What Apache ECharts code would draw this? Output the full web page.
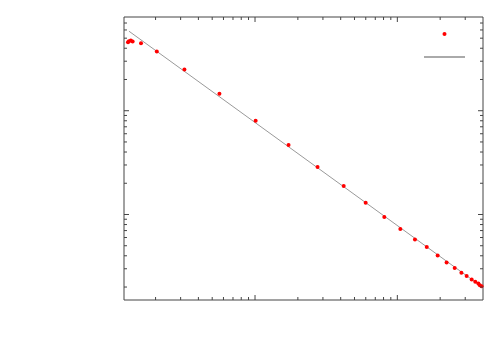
<!DOCTYPE html>
<html lang="en">
<head>
    <meta charset="UTF-8">
    <title>log-log</title>
    <style>
        html, body { margin: 0; padding: 0; background: #fff; }
        #main { width: 500px; height: 350px; }
    </style>
</head>
<body>
<div id="main"></div>
<script src="https://cdn.jsdelivr.net/npm/echarts@6/dist/echarts.min.js"></script>
<script>
const xs = [1.28, 1.30, 1.34, 1.38, 1.58, 2.04, 3.19, 5.62, 10.1, 17.2, 27.5, 42.0, 59.9, 81.0,
            105, 133, 161, 192, 222, 253, 282, 307, 333, 353, 371, 380, 391];
const ys = [45.8, 46.8, 47.5, 46.5, 44.8, 37.3, 25.0, 14.6, 8.0, 4.68, 2.87, 1.88, 1.30, 0.944,
            0.724, 0.575, 0.486, 0.403, 0.345, 0.305, 0.275, 0.256, 0.236, 0.225, 0.216, 0.208, 0.203];

// fitted line, ends only
const fitX = [1.3, 395];
const fitY = [58.4, 0.2];

// axis extents
const xRange = [1.2, 400];
const yRange = [0.15, 80];

// tick values (gnuplot style, no labels)
const xMajor = [10, 100];
const xMinor = [2, 3, 4, 5, 6, 7, 8, 9, 20, 30, 40, 50, 60, 70, 80, 90, 200, 300];
const yMajor = [1, 10];
const yMinor = [0.2, 0.3, 0.4, 0.5, 0.6, 0.7, 0.8, 0.9, 2, 3, 4, 5, 6, 7, 8, 9, 20, 30, 40, 50, 60, 70];

const tickColor = '#444';

const chart = echarts.init(document.getElementById('main'));

// ticks: [x, y, length]
const xTicks = xMajor.map(v => [v, yRange[0], 5]).concat(xMinor.map(v => [v, yRange[0], 3]));
const yTicks = yMajor.map(v => [xRange[0], v, 5]).concat(yMinor.map(v => [xRange[0], v, 3]));

function tickX(params, api) {
    const cs = params.coordSys;
    const px = api.coord([api.value(0), yRange[0]])[0];
    const len = api.value(2);
    const st = { stroke: tickColor, lineWidth: 1 };
    return { type: 'group', children: [
        { type: 'line', shape: { x1: px, y1: cs.y + cs.height, x2: px, y2: cs.y + cs.height - len }, style: st },
        { type: 'line', shape: { x1: px, y1: cs.y, x2: px, y2: cs.y + len }, style: st }
    ]};
}

function tickY(params, api) {
    const cs = params.coordSys;
    const py = api.coord([xRange[0], api.value(1)])[1];
    const len = api.value(2);
    const st = { stroke: tickColor, lineWidth: 1 };
    return { type: 'group', children: [
        { type: 'line', shape: { x1: cs.x, y1: py, x2: cs.x + len, y2: py }, style: st },
        { type: 'line', shape: { x1: cs.x + cs.width, y1: py, x2: cs.x + cs.width - len, y2: py }, style: st }
    ]};
}

const option = {
    animation: false,
    grid: {
        left: 124, right: 17, top: 17, bottom: 50,
        show: true, borderColor: tickColor, borderWidth: 1, backgroundColor: 'transparent'
    },
    legend: {
        data: [
            { name: 'data', icon: 'circle' },
            { name: 'fit', icon: 'path://M0,0 L41,0 L41,2 L0,2 Z' }
        ],
        orient: 'vertical',
        left: 419, top: 27,
        itemWidth: 41, itemHeight: 4, itemGap: 19,
        formatter: () => '',
        textStyle: { fontSize: 1 }
    },
    xAxis: {
        type: 'log', logBase: 10, min: xRange[0], max: xRange[1],
        axisLine: { show: false }, axisTick: { show: false },
        axisLabel: { show: false }, splitLine: { show: false }
    },
    yAxis: {
        type: 'log', logBase: 10, min: yRange[0], max: yRange[1],
        axisLine: { show: false }, axisTick: { show: false },
        axisLabel: { show: false }, splitLine: { show: false }
    },
    series: [
        {
            name: 'fit', type: 'line',
            data: fitX.map((x, i) => [x, fitY[i]]),
            symbol: 'none', z: 2,
            lineStyle: { color: '#999', width: 1 },
            itemStyle: { color: '#aaa' }
        },
        {
            name: 'data', type: 'scatter',
            data: xs.map((x, i) => [x, ys[i]]),
            symbol: 'circle', symbolSize: 4, z: 3,
            itemStyle: { color: '#ff0000', opacity: 1 }
        },
        { type: 'custom', renderItem: tickX, data: xTicks, silent: true, z: 4 },
        { type: 'custom', renderItem: tickY, data: yTicks, silent: true, z: 4 }
    ]
};

chart.setOption(option);
</script>
</body>
</html>
